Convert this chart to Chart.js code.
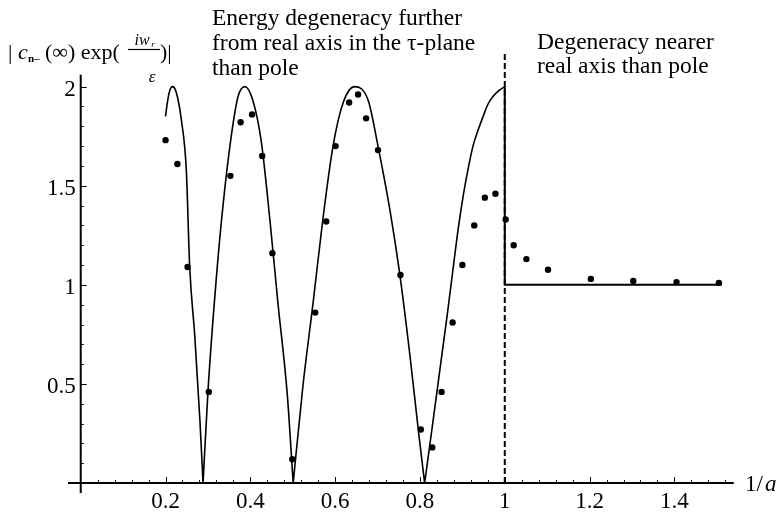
<!DOCTYPE html>
<html>
<head>
<meta charset="utf-8">
<script src="https://cdn.jsdelivr.net/npm/chart.js@4"></script>
<style>
  html, body { margin: 0; padding: 0; background: #fff; }
  #wrap { width: 781px; height: 514px; position: relative; }
</style>
</head>
<body>
<div id="wrap"><canvas id="plot"></canvas></div>
<script>
// theory curve |c(inf) exp(i w / eps)| against 1/a, one lobe per row (null = break at the zeros)
var curveX = [0.200, 0.205, 0.210, 0.216, 0.222, 0.229, 0.2375, 0.249, 0.257, 0.269, 0.281, 0.2885, 0.2885,
              0.2885, 0.300, 0.320, 0.336, 0.355, 0.371, 0.387, 0.406, 0.426, 0.446, 0.465, 0.487, 0.501, 0.501,
              0.501, 0.524, 0.548, 0.571, 0.595, 0.619, 0.646, 0.678, 0.701, 0.729, 0.752, 0.776, 0.796, 0.811, 0.811,
              0.811, 0.830, 0.850, 0.865, 0.878, 0.890, 0.902, 0.914, 0.925, 0.937, 0.949, 0.960, 0.972, 0.986, 1.000];
var curveY = [1.85, 1.93, 1.98, 2.00, 1.99, 1.94, 1.83, 1.58, 1.09, 0.74, 0.32, 0.00, null,
              0.00, 0.46, 1.04, 1.41, 1.75, 1.95, 2.00, 1.93, 1.72, 1.33, 0.91, 0.45, 0.00, null,
              0.00, 0.49, 0.91, 1.33, 1.70, 1.92, 2.00, 1.93, 1.70, 1.38, 1.06, 0.65, 0.27, 0.00, null,
              0.00, 0.30, 0.62, 0.86, 1.08, 1.28, 1.45, 1.59, 1.70, 1.78, 1.85, 1.91, 1.95, 1.98, 2.00];

// drop to the constant value past the pole
var stepX = [1.000, 1.000, 1.511];
var stepY = [2.00, 1.00, 1.00];

// numerical results
var dotX = [0.200, 0.228, 0.252, 0.302, 0.353, 0.377, 0.404, 0.428, 0.452, 0.499,
            0.553, 0.579, 0.601, 0.633, 0.654, 0.673, 0.701, 0.754, 0.802, 0.829,
            0.851, 0.877, 0.900, 0.928, 0.953, 0.978, 1.002, 1.021, 1.051, 1.102,
            1.203, 1.303, 1.405, 1.505];
var dotY = [1.73, 1.61, 1.09, 0.46, 1.55, 1.82, 1.86, 1.65, 1.16, 0.12,
            0.86, 1.32, 1.70, 1.92, 1.96, 1.84, 1.68, 1.05, 0.27, 0.18,
            0.46, 0.81, 1.10, 1.30, 1.44, 1.46, 1.33, 1.20, 1.13, 1.076,
            1.03, 1.02, 1.014, 1.01];

// boundary where the degeneracy crosses the pole
var dividerX = 1;
var dividerTop = 2.17;

var xTickValues = [0.2, 0.4, 0.6, 0.8, 1, 1.2, 1.4];
var xTickLabels = ['0.2', '0.4', '0.6', '0.8', '1', '1.2', '1.4'];
var yTickValues = [0.5, 1, 1.5, 2];
var yTickLabels = ['0.5', '1', '1.5', '2'];

var leftNote = ['Energy degeneracy further', 'from real axis in the \u03C4-plane', 'than pole'];
var rightNote = ['Degeneracy nearer', 'real axis than pole'];

var FONT = '"Liberation Serif", "DejaVu Serif", serif';

function pairs(xs, ys) {
    return xs.map(function (x, i) { return { x: x, y: ys[i] }; });
}

// axes crossing at the origin, inward ticks, labels and notes
var framePlugin = {
    id: 'frame',
    beforeDatasetsDraw: function (chart) {
        var ctx = chart.ctx;
        var xs = chart.scales.x, ys = chart.scales.y;
        var x0 = xs.getPixelForValue(0), y0 = ys.getPixelForValue(0);
        ctx.save();
        ctx.strokeStyle = '#000';
        ctx.lineWidth = 2;
        ctx.beginPath();
        ctx.moveTo(xs.getPixelForValue(-0.03), y0);
        ctx.lineTo(xs.getPixelForValue(1.54), y0);
        ctx.moveTo(x0, ys.getPixelForValue(-0.05));
        ctx.lineTo(x0, ys.getPixelForValue(2.06));
        ctx.stroke();

        ctx.lineWidth = 1;
        ctx.beginPath();
        for (var i = 1; i <= 38; i++) {
            var px = Math.round(xs.getPixelForValue(i * 0.04)) + 0.5;
            var len = (i % 5 === 0) ? 6 : 3;
            ctx.moveTo(px, y0);
            ctx.lineTo(px, y0 - len);
        }
        for (var j = 1; j <= 20; j++) {
            var py = Math.round(ys.getPixelForValue(j * 0.1)) + 0.5;
            var l2 = (j % 5 === 0) ? 6 : 3;
            ctx.moveTo(x0, py);
            ctx.lineTo(x0 + l2, py);
        }
        ctx.stroke();

        ctx.fillStyle = '#000';
        ctx.font = '23px ' + FONT;
        ctx.textAlign = 'center';
        ctx.textBaseline = 'alphabetic';
        xTickValues.forEach(function (v, k) {
            ctx.fillText(xTickLabels[k], xs.getPixelForValue(v), y0 + 25);
        });
        ctx.textAlign = 'right';
        ctx.textBaseline = 'middle';
        yTickValues.forEach(function (v, k) {
            ctx.fillText(yTickLabels[k], x0 - 5, ys.getPixelForValue(v) + 3);
        });

        // axis name on the right end
        ctx.textAlign = 'left';
        ctx.textBaseline = 'alphabetic';
        ctx.font = '23px ' + FONT;
        ctx.fillText('1/', 745, y0 + 8);
        ctx.font = 'italic 23px ' + FONT;
        ctx.fillText('a', 765, y0 + 8);

        // vertical axis name with the small fraction
        ctx.font = '22px ' + FONT;
        ctx.fillText('|', 8, 59);
        ctx.font = 'italic 22px ' + FONT;
        ctx.fillText('c', 18, 59);
        ctx.font = 'bold 11px ' + FONT;
        ctx.fillText('n\u2013', 28, 62);
        ctx.font = '22px ' + FONT;
        ctx.fillText('(\u221E) exp(', 45, 59);
        ctx.font = 'italic 16px ' + FONT;
        ctx.textAlign = 'center';
        ctx.fillText('iw', 142, 45);
        ctx.font = 'italic 9px ' + FONT;
        ctx.fillText('r', 153, 47);
        ctx.lineWidth = 1.2;
        ctx.beginPath();
        ctx.moveTo(128, 49.5);
        ctx.lineTo(160, 49.5);
        ctx.stroke();
        ctx.font = 'italic 17px ' + FONT;
        ctx.fillText('\u03B5', 152, 82);
        ctx.textAlign = 'left';
        ctx.font = '22px ' + FONT;
        ctx.fillText(')|', 160, 59);

        // notes over the two regions
        ctx.font = '23.5px ' + FONT;
        leftNote.forEach(function (s, k) {
            ctx.fillText(s, 212, 25 + k * 25);
        });
        rightNote.forEach(function (s, k) {
            ctx.fillText(s, 537, 49 + k * 24);
        });
        ctx.restore();
    }
};

new Chart(document.getElementById('plot'), {
    type: 'scatter',
    data: {
        datasets: [
            {
                label: 'theory',
                data: pairs(curveX, curveY),
                showLine: true,
                spanGaps: false,
                borderColor: '#000',
                borderWidth: 1.6,
                pointRadius: 0,
                cubicInterpolationMode: 'monotone'
            },
            {
                label: 'theory step',
                data: pairs(stepX, stepY),
                showLine: true,
                borderColor: '#000',
                borderWidth: 2,
                pointRadius: 0,
                tension: 0
            },
            {
                label: 'divider',
                data: [{ x: dividerX, y: 0 }, { x: dividerX, y: dividerTop }],
                showLine: true,
                borderColor: '#000',
                borderWidth: 2,
                borderDash: [6, 3],
                pointRadius: 0
            },
            {
                label: 'numerical',
                data: pairs(dotX, dotY),
                showLine: false,
                pointRadius: 3.2,
                pointBackgroundColor: '#000',
                pointBorderWidth: 0
            }
        ]
    },
    options: {
        responsive: true,
        maintainAspectRatio: false,
        animation: false,
        layout: { padding: { left: 68, right: 43, top: 47, bottom: 21 } },
        plugins: { legend: { display: false }, tooltip: { enabled: false } },
        scales: {
            x: { type: 'linear', min: -0.03, max: 1.55, display: false },
            y: { type: 'linear', min: -0.05, max: 2.2, display: false }
        }
    },
    plugins: [framePlugin]
});
</script>
</body>
</html>
